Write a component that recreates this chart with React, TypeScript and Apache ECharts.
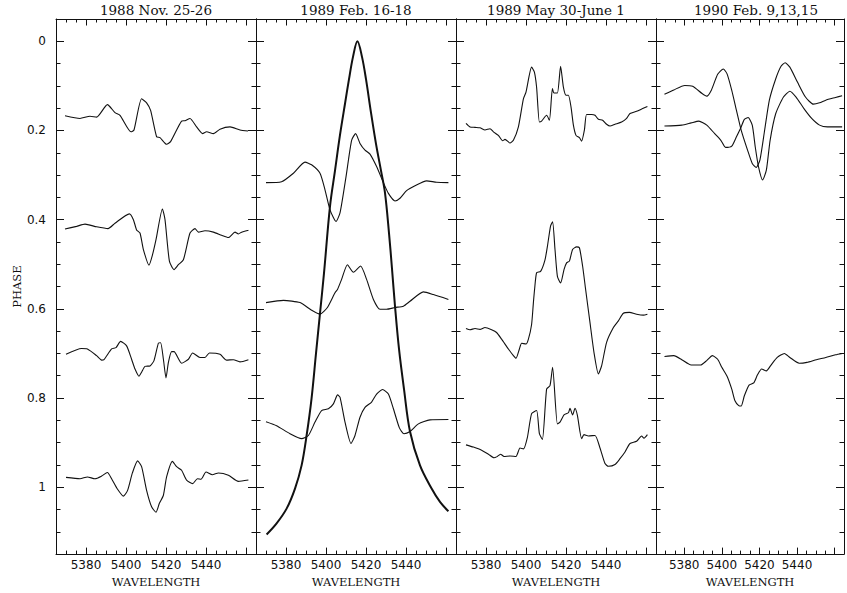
import React, { useEffect, useRef } from 'react';
import * as echarts from 'echarts';

// Panel headings (observing runs)
const panelTitles = ['1988 Nov. 25-26', '1989 Feb. 16-18', '1989 May 30-June 1', '1990 Feb. 9,13,15'];

// Axis tick positions
const waveTicks = ['5365', '5370', '5375', '5380', '5385', '5390', '5395', '5400', '5405', '5410', '5415', '5420', '5425', '5430', '5435', '5440', '5445', '5450', '5455', '5460', '5465'];
const waveLabels = [5380, 5400, 5420, 5440];
const phaseTicks = ['-0.05', '0', '0.05', '0.1', '0.15', '0.2', '0.25', '0.3', '0.35', '0.4', '0.45', '0.5', '0.55', '0.6', '0.65', '0.7', '0.75', '0.8', '0.85', '0.9', '0.95', '1', '1.05', '1.1', '1.15'];
const phaseLabels = [0, 0.2, 0.4, 0.6, 0.8, 1];

// 1988 Nov. 25-26 profiles: [wavelength, phase]
const nov88A = [[5369.5,0.167],[5377,0.173],[5382,0.168],[5385.3,0.170],[5390.7,0.142],[5394.5,0.160],[5397,0.166],[5402.5,0.203],[5404,0.199],[5407.8,0.129],[5410.3,0.138],[5412.3,0.155],[5415.3,0.214],[5417,0.216],[5420.3,0.231],[5422.3,0.225],[5427.8,0.179],[5429.5,0.178],[5432,0.173],[5435.3,0.192],[5438.3,0.207],[5440.3,0.203],[5443.7,0.207],[5447,0.197],[5452,0.192],[5457,0.199],[5461,0.201]];
const nov88B = [[5369.5,0.421],[5375.3,0.415],[5379.5,0.410],[5385.3,0.416],[5391,0.420],[5394.5,0.408],[5401.7,0.387],[5403.7,0.400],[5405.3,0.423],[5407,0.430],[5408.7,0.467],[5411.5,0.502],[5413.3,0.478],[5415,0.445],[5418.2,0.376],[5419.5,0.400],[5421.7,0.493],[5424,0.512],[5426.2,0.501],[5428.7,0.490],[5432,0.430],[5434.5,0.420],[5436.2,0.428],[5439.5,0.425],[5443.7,0.428],[5447.8,0.435],[5451.2,0.440],[5454.5,0.428],[5456.2,0.432],[5457.8,0.428],[5461.2,0.424]];
const nov88C = [[5370,0.702],[5377.8,0.689],[5380.7,0.690],[5385.3,0.705],[5387.8,0.715],[5389,0.714],[5392.8,0.690],[5395,0.687],[5397.3,0.673],[5400.3,0.683],[5402.8,0.713],[5404.5,0.735],[5406.5,0.751],[5407.8,0.742],[5409.5,0.729],[5412,0.728],[5414,0.716],[5416.2,0.677],[5417.3,0.676],[5418.7,0.713],[5420,0.755],[5421.2,0.720],[5422.8,0.696],[5424,0.696],[5427.8,0.722],[5431.2,0.713],[5433.3,0.699],[5437,0.709],[5439.5,0.709],[5441.7,0.699],[5447,0.702],[5450.3,0.715],[5453.7,0.714],[5457,0.719],[5461.2,0.714]];
const nov88D = [[5370,0.978],[5377,0.981],[5380.7,0.977],[5384.5,0.981],[5387.8,0.975],[5390.7,0.967],[5392.8,0.981],[5395.7,1.004],[5398.7,1.020],[5400.8,1.007],[5403.2,0.968],[5405.8,0.941],[5407.8,0.954],[5410.3,1.007],[5412.8,1.044],[5415,1.056],[5416.7,1.036],[5418.7,1.018],[5420.3,0.977],[5423.2,0.942],[5425.3,0.954],[5427.8,0.962],[5430.3,0.984],[5433.3,0.992],[5435.7,0.981],[5437.5,0.982],[5440,0.966],[5443.2,0.972],[5446.2,0.968],[5451.2,0.973],[5456.2,0.987],[5461.2,0.984]];

// 1989 Feb. 16-18 profiles
const feb89Broad = [[5370.3,1.106],[5375.3,1.081],[5380.3,1.048],[5384.5,1.003],[5387.8,0.951],[5390.3,0.884],[5392.8,0.80],[5395,0.70],[5397,0.61],[5399,0.52],[5402,0.37],[5404.5,0.29],[5407,0.21],[5409.5,0.14],[5411.5,0.085],[5413.5,0.035],[5415.7,0.0],[5418,0.035],[5420,0.085],[5422.5,0.16],[5425,0.23],[5427.5,0.29],[5429.5,0.34],[5431.5,0.43],[5433,0.51],[5434.5,0.594],[5436.5,0.69],[5439,0.78],[5442,0.875],[5447,0.951],[5452.8,1.003],[5457,1.033],[5461.2,1.054]];
const feb89A = [[5370,0.317],[5377.8,0.315],[5383.7,0.296],[5389.5,0.271],[5392.8,0.277],[5397,0.296],[5399.5,0.333],[5402,0.378],[5405,0.404],[5407,0.385],[5410,0.304],[5412.8,0.222],[5414.8,0.207],[5417,0.229],[5419.5,0.244],[5422,0.253],[5425.3,0.281],[5428.7,0.317],[5431.2,0.341],[5434.5,0.358],[5437,0.352],[5440.3,0.335],[5444.5,0.324],[5450.3,0.313],[5455.3,0.316],[5461.2,0.317]];
const feb89B = [[5370,0.586],[5378.7,0.581],[5387,0.586],[5392.8,0.603],[5397,0.612],[5400.7,0.597],[5404.5,0.564],[5405.8,0.556],[5407.8,0.534],[5410.7,0.501],[5413.7,0.518],[5417.3,0.504],[5420.3,0.534],[5423.7,0.579],[5427,0.601],[5430.3,0.601],[5434.5,0.597],[5438.7,0.594],[5442,0.583],[5448.7,0.562],[5453.7,0.568],[5461.2,0.579]];
const feb89C = [[5370,0.853],[5375.3,0.862],[5382,0.880],[5387.8,0.891],[5391.2,0.884],[5394.5,0.854],[5397.8,0.828],[5401.2,0.824],[5403.7,0.813],[5405.8,0.793],[5407,0.798],[5409.5,0.854],[5412.5,0.902],[5414.5,0.884],[5417,0.843],[5419.5,0.821],[5422.8,0.809],[5425.3,0.791],[5428.3,0.781],[5431.2,0.791],[5433.7,0.824],[5436.7,0.867],[5439,0.880],[5442,0.875],[5446.2,0.858],[5452,0.849],[5461.2,0.848]];

// 1989 May 30-June 1 profiles
const may89A = [[5370,0.184],[5372,0.192],[5374.5,0.193],[5377,0.194],[5379.5,0.199],[5382,0.196],[5383.7,0.203],[5386.2,0.211],[5388.3,0.223],[5389.5,0.220],[5392,0.228],[5393.7,0.222],[5396.2,0.192],[5398.7,0.129],[5400,0.114],[5402.8,0.058],[5404.2,0.069],[5405.3,0.103],[5406.7,0.181],[5407.8,0.179],[5410.3,0.166],[5411.7,0.177],[5413.2,0.106],[5414,0.116],[5415.7,0.116],[5417.3,0.056],[5418.7,0.103],[5420,0.121],[5421.2,0.121],[5422.5,0.147],[5423.7,0.188],[5425,0.211],[5426.7,0.216],[5427.8,0.224],[5429.2,0.199],[5430.3,0.164],[5432.8,0.164],[5434.5,0.166],[5436.2,0.175],[5438.3,0.177],[5440.3,0.186],[5442,0.190],[5444.5,0.186],[5447.8,0.181],[5450.3,0.173],[5452,0.162],[5455.3,0.157],[5457.8,0.152],[5460.7,0.146]];
const may89B = [[5370,0.644],[5372,0.647],[5374.5,0.644],[5377,0.646],[5379.5,0.642],[5382.8,0.647],[5385.3,0.653],[5387.8,0.668],[5391.2,0.690],[5393.7,0.705],[5395,0.711],[5396.7,0.690],[5397.8,0.677],[5400,0.679],[5401.2,0.668],[5402.8,0.635],[5403.7,0.586],[5404.3,0.556],[5405.3,0.519],[5407.3,0.516],[5409.5,0.490],[5410.7,0.460],[5412.3,0.414],[5413.3,0.405],[5414.5,0.467],[5415.7,0.527],[5417.3,0.542],[5419,0.512],[5420.3,0.497],[5421.7,0.493],[5423.3,0.467],[5425.3,0.461],[5426.7,0.463],[5428.3,0.504],[5429.8,0.556],[5432,0.631],[5434,0.698],[5436.2,0.746],[5437.8,0.728],[5440.3,0.675],[5443.7,0.642],[5446.2,0.627],[5448.7,0.610],[5451.7,0.608],[5455.3,0.612],[5458.7,0.614],[5460.7,0.612]];
const may89C = [[5370,0.905],[5373.7,0.910],[5377.8,0.917],[5381.2,0.926],[5384,0.934],[5385.3,0.932],[5387.3,0.926],[5389,0.931],[5392,0.930],[5395,0.931],[5397,0.912],[5398.7,0.914],[5400.7,0.888],[5402.8,0.835],[5405.3,0.828],[5406.7,0.880],[5408.2,0.893],[5410.3,0.780],[5412,0.772],[5413.3,0.731],[5415.7,0.858],[5417,0.854],[5419,0.838],[5421.2,0.833],[5422,0.823],[5423.3,0.838],[5424.5,0.823],[5425.7,0.839],[5427.8,0.891],[5429,0.882],[5431.2,0.885],[5434.5,0.884],[5437,0.912],[5439.5,0.947],[5441.2,0.953],[5444.5,0.949],[5447,0.936],[5449.5,0.921],[5452,0.902],[5455.3,0.897],[5457.8,0.885],[5459,0.890],[5460.7,0.882]];

// 1990 Feb. 9,13,15 profiles
const feb90A = [[5369.5,0.119],[5374.5,0.109],[5380.3,0.099],[5384.5,0.101],[5389.5,0.117],[5392,0.123],[5394.5,0.109],[5397.8,0.074],[5400.8,0.062],[5402.8,0.073],[5405.3,0.110],[5407.8,0.155],[5410.3,0.199],[5413.7,0.244],[5416.2,0.274],[5418.3,0.283],[5420.3,0.266],[5422.8,0.199],[5425.3,0.132],[5428.7,0.084],[5431.5,0.056],[5433.7,0.048],[5436.2,0.058],[5440.3,0.092],[5444.5,0.125],[5448.7,0.141],[5452,0.138],[5455.3,0.132],[5460.5,0.126],[5464,0.122]];
const feb90B = [[5369.5,0.190],[5378.7,0.188],[5383.7,0.183],[5387.8,0.179],[5392,0.188],[5396.2,0.207],[5399.5,0.222],[5402,0.238],[5405.3,0.235],[5407.8,0.214],[5410.3,0.192],[5412,0.175],[5414,0.171],[5416.2,0.188],[5417.8,0.237],[5419.5,0.281],[5421.7,0.311],[5423.7,0.289],[5425.7,0.222],[5428.7,0.162],[5432.8,0.125],[5436.2,0.112],[5439.5,0.125],[5443.7,0.151],[5447.8,0.173],[5452,0.188],[5456.2,0.192],[5460.5,0.192],[5464,0.192]];
const feb90C = [[5369.5,0.707],[5374.5,0.705],[5378.7,0.714],[5383.7,0.726],[5388.7,0.726],[5392,0.716],[5395,0.705],[5397.8,0.713],[5400,0.731],[5402.8,0.751],[5405.3,0.780],[5407,0.806],[5409,0.817],[5410.3,0.818],[5412,0.795],[5414.5,0.771],[5417,0.766],[5419,0.748],[5421.2,0.735],[5423.7,0.739],[5426.2,0.726],[5429.5,0.709],[5433.3,0.700],[5436.2,0.709],[5441.2,0.722],[5445.3,0.720],[5450.3,0.714],[5455.3,0.709],[5460.5,0.703],[5464,0.700]];

const panelCurves = [
  [nov88A, nov88B, nov88C, nov88D],
  [feb89Broad, feb89A, feb89B, feb89C],
  [may89A, may89B, may89C],
  [feb90A, feb90B, feb90C],
];

const INK = '#111111';
const PANEL_W = 200;
const PANEL_LEFT = 56;
const PANEL_TOP = 19;
const PANEL_H = 537;
const WAVE_MIN = 5365;
const WAVE_MAX = 5465;
const PHASE_MIN = -0.05;
const PHASE_MAX = 1.15;

const tickFont = { fontFamily: 'DejaVu Sans', fontSize: 12, color: INK };
const nameFont = { fontFamily: 'DejaVu Serif', fontSize: 11.5, color: INK };

function buildOption(): echarts.EChartsOption {
  const grid: any[] = [];
  const xAxis: any[] = [];
  const yAxis: any[] = [];
  const series: any[] = [];
  const graphic: any[] = [];

  const line = { show: true, onZero: false, lineStyle: { color: INK, width: 1 } };
  const noLine = { show: false, onZero: false };

  for (let k = 0; k < 4; k++) {
    const left = PANEL_LEFT + k * PANEL_W;
    grid.push({ left, top: PANEL_TOP, width: PANEL_W, height: PANEL_H, containLabel: false });

    graphic.push({
      type: 'text',
      x: left + PANEL_W / 2,
      y: 10,
      silent: true,
      style: {
        text: panelTitles[k],
        fill: INK,
        font: '13.5px "DejaVu Serif"',
        textAlign: 'center',
        textVerticalAlign: 'middle',
      },
    });

    const waveBase = {
      gridIndex: k,
      type: 'value',
      min: WAVE_MIN,
      max: WAVE_MAX,
      interval: 5,
      splitLine: { show: false },
      axisLine: line,
      axisTick: { show: true, inside: true, length: 3.5, lineStyle: { color: INK, width: 1 } },
    };
    // bottom wavelength axis (carries the data)
    xAxis.push({
      ...waveBase,
      position: 'bottom',
      name: 'WAVELENGTH',
      nameLocation: 'middle',
      nameGap: 21,
      nameTextStyle: nameFont,
      axisLabel: {
        show: true,
        margin: 5,
        ...tickFont,
        formatter: (v: number) => (waveLabels.indexOf(Math.round(v)) >= 0 ? String(Math.round(v)) : ''),
      },
    });
    // top wavelength frame
    xAxis.push({ ...waveBase, position: 'top', axisLabel: { show: false } });
    // long major ticks, bottom and top
    const waveMajor = {
      gridIndex: k,
      type: 'category',
      data: waveTicks,
      boundaryGap: false,
      axisLine: noLine,
      axisLabel: { show: false },
      splitLine: { show: false },
      axisTick: {
        show: true,
        inside: true,
        length: 6.5,
        lineStyle: { color: INK, width: 1 },
        interval: (_i: number, v: string) => Number(v) % 20 === 0,
      },
    };
    xAxis.push({ ...waveMajor, position: 'bottom' });
    xAxis.push({ ...waveMajor, position: 'top' });

    const phaseBase = {
      gridIndex: k,
      type: 'value',
      min: PHASE_MIN,
      max: PHASE_MAX,
      interval: 0.05,
      inverse: true,
      splitLine: { show: false },
      axisLine: line,
      axisTick: { show: true, inside: true, length: 4.5, lineStyle: { color: INK, width: 1 } },
    };
    yAxis.push({
      ...phaseBase,
      position: 'left',
      name: k === 0 ? 'PHASE' : '',
      nameLocation: 'middle',
      nameGap: 33,
      nameTextStyle: nameFont,
      axisLabel: {
        show: k === 0,
        margin: 10,
        ...tickFont,
        formatter: (v: number) => {
          const r = Math.round(v * 100) / 100;
          return phaseLabels.indexOf(r) >= 0 ? String(r) : '';
        },
      },
    });
    yAxis.push({ ...phaseBase, position: 'right', axisLabel: { show: false } });
    const phaseMajor = {
      gridIndex: k,
      type: 'category',
      data: phaseTicks,
      boundaryGap: false,
      inverse: true,
      axisLine: noLine,
      axisLabel: { show: false },
      splitLine: { show: false },
      axisTick: {
        show: true,
        inside: true,
        length: 8,
        lineStyle: { color: INK, width: 1 },
        interval: (_i: number, v: string) => phaseLabels.indexOf(Number(v)) >= 0,
      },
    };
    yAxis.push({ ...phaseMajor, position: 'left' });
    yAxis.push({ ...phaseMajor, position: 'right' });

    panelCurves[k].forEach((curve, ci) => {
      const broad = k === 1 && ci === 0;
      series.push({
        type: 'line',
        xAxisIndex: 4 * k,
        yAxisIndex: 4 * k,
        data: curve,
        symbol: 'none',
        smooth: broad ? 0.35 : 0.2,
        clip: true,
        silent: true,
        lineStyle: { color: INK, width: broad ? 2 : 1.1 },
      });
    });
  }

  return {
    animation: false,
    backgroundColor: '#ffffff',
    grid,
    xAxis,
    yAxis,
    series,
    graphic,
  };
}

export default function App() {
  const ref = useRef<HTMLDivElement>(null);
  useEffect(() => {
    if (!ref.current) return;
    const chart = echarts.init(ref.current, undefined, { renderer: 'svg' });
    chart.setOption(buildOption());
    return () => chart.dispose();
  }, []);
  return (
    <div
      ref={ref}
      style={{ position: 'fixed', left: 0, top: 0, width: 847, height: 593, background: '#fff' }}
    />
  );
}
